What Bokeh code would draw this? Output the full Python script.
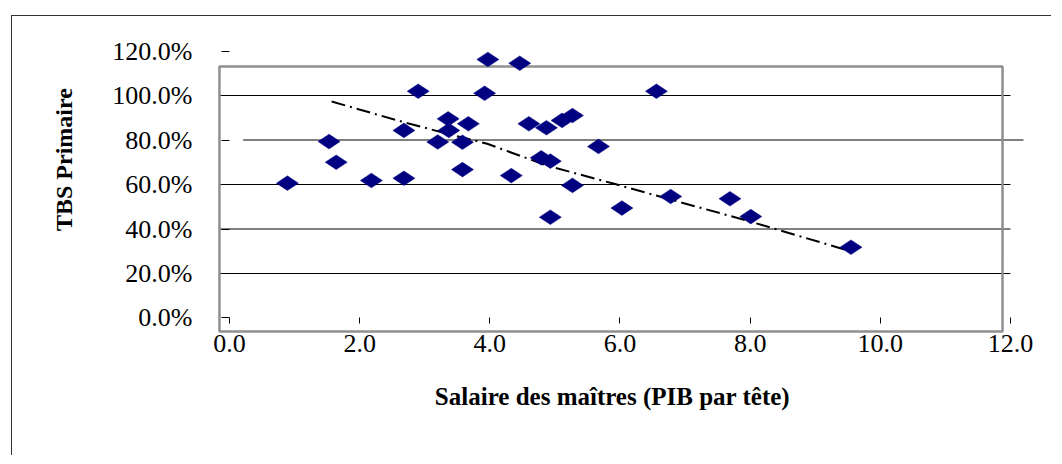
import numpy as np
from bokeh.plotting import figure
from bokeh.models import FixedTicker, Label
from bokeh.embed import file_html
from bokeh.resources import INLINE

# ---- data ----
salaire = [0.89, 1.53, 1.64, 2.18, 2.68, 2.68, 2.90, 3.20, 3.36, 3.37, 3.58, 3.67,
           3.58, 3.97, 3.92, 4.46, 4.33, 4.60, 4.87, 5.11, 5.27, 4.79, 4.93, 5.27,
           4.93, 5.67, 6.03, 6.56, 6.78, 7.69, 8.01, 9.55]
tbs = [60.6, 79.3, 70.0, 61.8, 62.8, 84.3, 101.9, 79.1, 89.5, 84.3, 79.0, 87.3,
       66.7, 116.2, 101.0, 114.5, 64.0, 87.3, 85.5, 88.8, 91.0, 72.0, 70.5, 59.6,
       45.3, 77.1, 49.4, 101.9, 54.6, 53.6, 45.6, 31.8]

trend_x = [1.57, 2.32, 2.68, 3.35, 3.96, 4.88, 5.91, 6.93, 7.95, 9.59]
trend_y = [97.3, 91.0, 88.0, 82.8, 78.3, 68.5, 60.3, 52.0, 43.8, 29.6]

x_ticks = [0, 2, 4, 6, 8, 10, 12]
x_tick_labels = ["0.0", "2.0", "4.0", "6.0", "8.0", "10.0", "12.0"]
y_ticks = [0, 20, 40, 60, 80, 100, 120]
y_tick_labels = ["0.0%", "20.0%", "40.0%", "60.0%", "80.0%", "100.0%", "120.0%"]
grid_levels = [20, 40, 60, 80, 100]

x_title = "Salaire des maîtres (PIB par tête)"
y_title = "TBS Primaire"

# ---- layout / style ----
SERIF = "Liberation Serif"
grid_x0 = [-0.15, -0.15, -0.15, 0.21, -0.15]
grid_x1 = [12.0, 12.0, 12.0, 12.2, 12.0]

p = figure(width=1040, height=440, output_backend="svg", toolbar_location=None,
           x_range=(-3.334, 12.646), y_range=(-62.25, 135.51),
           min_border_left=0, min_border_right=0, min_border_top=0,
           min_border_bottom=0)
p.styles = {"border-top": "1px solid #333333", "border-left": "1px solid #333333",
            "margin-left": "11px", "margin-top": "15px"}
p.outline_line_color = None
p.background_fill_color = "white"
p.border_fill_color = "white"
p.xgrid.visible = False
p.ygrid.visible = False

# gridlines
p.segment(x0=grid_x0, x1=grid_x1, y0=grid_levels, y1=grid_levels,
          line_color="black", line_width=1)

# grey plot-area frame
p.quad(left=[-0.154], right=[11.878], bottom=[-6.07], top=[113.03],
       fill_color=None, line_color="#8f8f8f", line_width=2.5)

# trend line
p.line(trend_x, trend_y, line_color="black", line_width=2, line_dash="14 5 2 5")

# points
p.scatter(salaire, tbs, marker="diamond", size=22, angle=np.pi / 2,
          fill_color="#000080", line_color="#000080", line_width=0.5)

# axes
xa = p.xaxis[0]
xa.fixed_location = 0
xa.ticker = FixedTicker(ticks=x_ticks)
xa.major_label_overrides = {t: l for t, l in zip(x_ticks, x_tick_labels)}
xa.axis_line_color = None
xa.major_tick_in = 0
xa.major_tick_out = 6
xa.major_tick_line_color = "black"
xa.minor_tick_line_color = None
xa.major_label_standoff = 11
xa.major_label_text_font = SERIF
xa.major_label_text_font_size = "26px"
xa.major_label_text_color = "black"

ya = p.yaxis[0]
ya.fixed_location = 0
ya.ticker = FixedTicker(ticks=y_ticks)
ya.major_label_overrides = {t: l for t, l in zip(y_ticks, y_tick_labels)}
ya.axis_line_color = None
ya.major_tick_in = 0
ya.major_tick_out = 8
ya.major_tick_line_color = "black"
ya.minor_tick_line_color = None
ya.major_label_standoff = 29
ya.major_label_text_font = SERIF
ya.major_label_text_font_size = "26px"
ya.major_label_text_color = "black"

# axis titles
p.add_layout(Label(x=5.885, y=-35.3, text=x_title, text_font=SERIF,
                   text_font_size="25px", text_font_style="bold",
                   text_align="center", text_baseline="middle", text_color="black"))
p.add_layout(Label(x=-2.55, y=71.2, text=y_title, text_font=SERIF,
                   text_font_size="24px", text_font_style="bold", angle=np.pi / 2,
                   text_align="center", text_baseline="middle", text_color="black"))

open("out.html", "w").write(file_html(p, INLINE))
